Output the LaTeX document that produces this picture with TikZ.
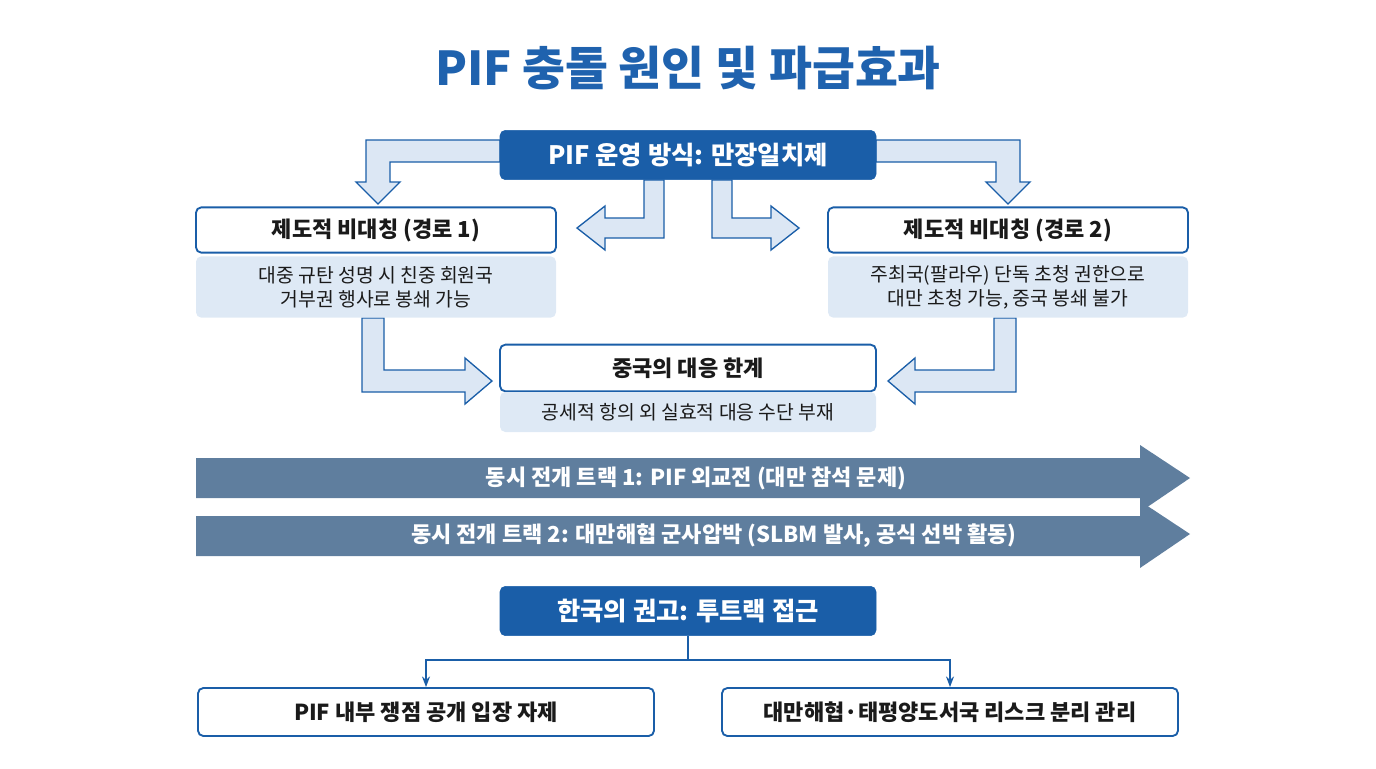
\documentclass[tikz,border=0pt]{standalone}
\usepackage{fontspec}
\setmainfont{Noto Sans CJK KR}
\usetikzlibrary{arrows.meta, positioning}
\definecolor{navy}{HTML}{1A5EA8}
\definecolor{titleblue}{HTML}{1F62AE}
\definecolor{paleblue}{HTML}{DEE9F5}
\definecolor{hollow}{HTML}{DCE7F4}
\definecolor{track}{HTML}{5F7E9E}
\definecolor{ink}{HTML}{1A1A1A}

\begin{document}
\begin{tikzpicture}[
    x=0.75pt, y=-0.75pt,
    head/.style={draw=navy, fill=navy, rounded corners=4pt, text=white, font=\bfseries\fontsize{19}{22}\selectfont},
    frame/.style={draw=navy, line width=1.4pt, fill=white, rounded corners=4pt, text=ink, font=\bfseries\fontsize{16.5}{19}\selectfont},
    detail/.style={fill=paleblue, rounded corners=4pt, text=ink, align=center, font=\fontsize{14.5}{18}\selectfont},
    block/.style={draw=navy, line width=1pt, fill=hollow},
    band/.style={fill=track},
    link/.style={draw=navy, line width=1.2pt, -{Stealth[length=8pt,width=6pt]}}
  ]
  \useasboundingbox (0,0) rectangle (1376,768);

  % Title
  \node[text=titleblue, font=\bfseries\fontsize{35}{40}\selectfont] (title) at (688,68) {PIF 충돌 원인 및 파급효과};

  % Hollow arrows
  \draw[block] (500,140) -- (366,140) -- (366,182) -- (356,182) -- (378,204) -- (400,182) -- (390,182) -- (390,162) -- (500,162) -- cycle;
  \draw[block] (664,180) -- (664,238) -- (605,238) -- (605,250) -- (577,228) -- (605,206) -- (605,218) -- (644,218) -- (644,180) -- cycle;
  \draw[block] (712,180) -- (712,238) -- (771,238) -- (771,250) -- (799,228) -- (771,206) -- (771,218) -- (732,218) -- (732,180) -- cycle;
  \draw[block] (876,140) -- (1020,140) -- (1020,182) -- (1030,182) -- (1008,204) -- (986,182) -- (996,182) -- (996,162) -- (876,162) -- cycle;
  \draw[block] (362,318) -- (362,392) -- (465,392) -- (465,404) -- (492,381) -- (465,358) -- (465,370) -- (384,370) -- (384,318) -- cycle;
  \draw[block] (1016,318) -- (1016,392) -- (915,392) -- (915,404) -- (888,381) -- (915,358) -- (915,370) -- (994,370) -- (994,318) -- cycle;

  % Boxes
  \node[head, minimum width=282pt, minimum height=37pt] (rule) at (688,155) {PIF 운영 방식: 만장일치제};
  \node[frame, minimum width=270pt, minimum height=34pt] (path1) at (376,230) {제도적 비대칭 (경로 1)};
  \node[detail, minimum width=270pt, minimum height=46pt] (path1note) at (376,287) {대중 규탄 성명 시 친중 회원국\\거부권 행사로 봉쇄 가능};
  \node[frame, minimum width=270pt, minimum height=34pt] (path2) at (1008,230) {제도적 비대칭 (경로 2)};
  \node[detail, minimum width=270pt, minimum height=46pt] (path2note) at (1008,287) {주최국(팔라우) 단독 초청 권한으로\\대만 초청 가능, 중국 봉쇄 불가};
  \node[frame, minimum width=282pt, minimum height=35pt] (limit) at (688,368) {중국의 대응 한계};
  \node[detail, minimum width=282pt, minimum height=30pt] (limitnote) at (688,412) {공세적 항의 외 실효적 대응 수단 부재};

  % Tracks
  \fill[band] (196,458) -- (1140,458) -- (1140,445) -- (1190,478) -- (1140,512) -- (1140,498) -- (196,498) -- cycle;
  \fill[band] (196,516) -- (1140,516) -- (1140,501) -- (1190,534) -- (1140,568) -- (1140,556) -- (196,556) -- cycle;
  \node[text=white, font=\bfseries\fontsize{16.5}{19}\selectfont] (track1) at (696,478) {동시 전개 트랙 1: PIF 외교전 (대만 참석 문제)};
  \node[text=white, font=\bfseries\fontsize{16.5}{19}\selectfont] (track2) at (714,536) {동시 전개 트랙 2: 대만해협 군사압박 (SLBM 발사, 공식 선박 활동)};

  % Recommendation
  \node[head, minimum width=282pt, minimum height=37pt] (advice) at (688,611) {한국의 권고: 투트랙 접근};
  \node[frame, minimum width=342pt, minimum height=36pt] (step1) at (426,712) {PIF 내부 쟁점 공개 입장 자제};
  \node[frame, minimum width=342pt, minimum height=36pt] (step2) at (950,712) {대만해협·태평양도서국 리스크 분리 관리};
  \coordinate (split) at (688,660);
  \draw[navy, line width=1.2pt] (advice.south) -- (split);
  \draw[link] (split) -| (step1.north);
  \draw[link] (split) -| (step2.north);
\end{tikzpicture}
\end{document}
